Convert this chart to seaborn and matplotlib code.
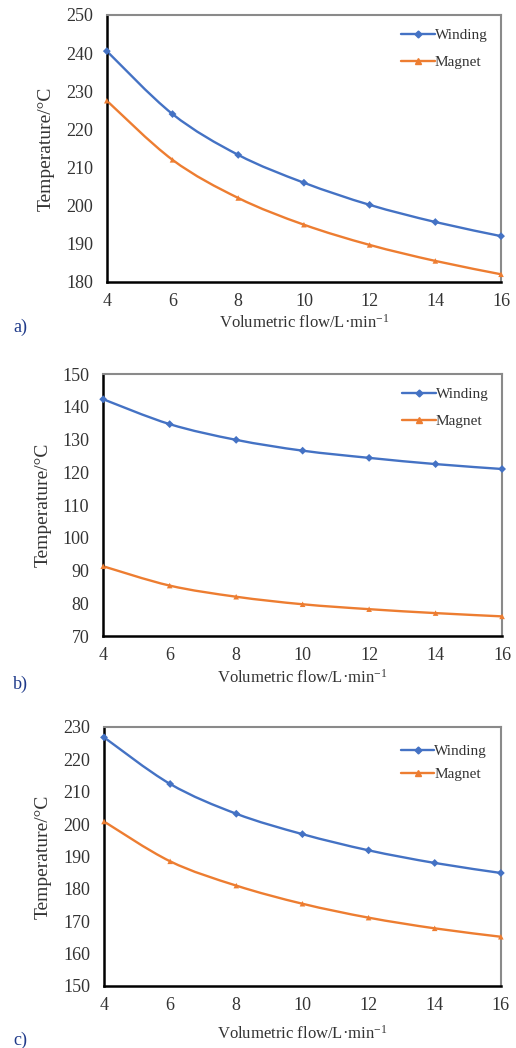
import numpy as np
import pandas as pd
import seaborn as sns
import matplotlib
matplotlib.use('Agg')
from matplotlib import pyplot as plt
from matplotlib.path import Path
from matplotlib.patches import PathPatch
from matplotlib.lines import Line2D

flow = [4, 6, 8, 10, 12, 14, 16]

winding_a = [240.5, 224.0, 213.3, 206.0, 200.2, 195.7, 192.0]
magnet_a = [227.5, 212.0, 202.0, 195.0, 189.7, 185.5, 182.0]

winding_b = [142.3, 134.7, 129.9, 126.6, 124.4, 122.5, 121.0]
magnet_b = [91.3, 85.4, 82.0, 79.7, 78.2, 77.0, 76.0]

winding_c = [226.8, 212.4, 203.2, 196.9, 191.9, 188.0, 184.9]
magnet_c = [200.8, 188.5, 181.0, 175.4, 171.1, 167.8, 165.2]

ylims = [(180, 250), (70, 150), (150, 230)]
panel_tags = ['a)', 'b)', 'c)']

BLUE = '#4472C4'
ORANGE = '#ED7D31'
TEXT = '#333333'

sns.set_theme(style='white')
plt.rcParams['font.family'] = ['Liberation Serif', 'DejaVu Serif']
plt.rcParams['mathtext.default'] = 'regular'


def smooth_path(x, y):
    # Excel style smoothed line: cubic bezier through the points
    p = np.column_stack([x, y]).astype(float)
    ext = np.vstack([p[0], p, p[-1]])
    verts = [p[0]]
    codes = [Path.MOVETO]
    for i in range(len(p) - 1):
        c1 = ext[i + 1] + (ext[i + 2] - ext[i]) / 6
        c2 = ext[i + 2] - (ext[i + 3] - ext[i + 1]) / 6
        verts += [c1, c2, p[i + 1]]
        codes += [Path.CURVE4] * 3
    return Path(verts, codes)


fig = plt.figure(figsize=(5.16, 10.48), dpi=100)
boxes = [(0.207, 0.731, 0.764, 0.2548),
         (0.200, 0.3931, 0.773, 0.250),
         (0.2016, 0.0592, 0.769, 0.2471)]
series = [(winding_a, magnet_a), (winding_b, magnet_b), (winding_c, magnet_c)]
tag_y = [0.683, 0.343, 0.003]
label_pads = [3, 3, 8]
legend_anchor = [(1.0, 1.0), (1.0, 1.0), (1.0, 0.985)]
legend_spacing = [0.85, 0.85, 0.6]

for k in range(3):
    ax = fig.add_axes(boxes[k])
    wind, mag = series[k]
    df = pd.DataFrame({'flow': flow * 2, 'temp': wind + mag,
                       'part': ['Winding'] * 7 + ['Magnet'] * 7})

    for vals, col in [(wind, BLUE), (mag, ORANGE)]:
        ax.add_patch(PathPatch(smooth_path(flow, vals), facecolor='none',
                               edgecolor=col, lw=1.7, zorder=2))
    sns.scatterplot(data=df, x='flow', y='temp', hue='part', style='part',
                    palette={'Winding': BLUE, 'Magnet': ORANGE},
                    markers={'Winding': 'D', 'Magnet': '^'}, s=16,
                    edgecolor='none', legend=False, ax=ax, zorder=3, clip_on=False)

    ax.set_xlim(4, 16)
    ax.set_ylim(*ylims[k])
    ax.set_xticks(flow)
    ax.set_yticks(np.arange(ylims[k][0], ylims[k][1] + 1, 10))
    ax.tick_params(direction='in', length=3, width=1, colors='black',
                   labelcolor=TEXT, labelsize=13)
    ax.tick_params(axis='x', pad=8)
    ax.tick_params(axis='y', pad=10)

    for s in ['left', 'bottom']:
        ax.spines[s].set_color('black')
        ax.spines[s].set_linewidth(1.8)
    for s in ['top', 'right']:
        ax.spines[s].set_color('#8a8a8a')
        ax.spines[s].set_linewidth(1.5)

    ax.set_xlabel('Volumetric flow/L·min$^{-1}$', fontsize=12,
                  color=TEXT, labelpad=label_pads[k])
    ax.set_ylabel('Temperature/°C', fontsize=14, color=TEXT, labelpad=8)

    handles = [Line2D([], [], color=BLUE, marker='D', markersize=3.5, lw=1.7),
               Line2D([], [], color=ORANGE, marker='^', markersize=4.5, lw=1.7)]
    ax.legend(handles, ['Winding', 'Magnet'], loc='upper right',
              bbox_to_anchor=legend_anchor[k], frameon=False, fontsize=11,
              handlelength=2.2, handletextpad=0.0,
              labelspacing=legend_spacing[k], labelcolor=TEXT)

    fig.text(0.025, tag_y[k], panel_tags[k], fontsize=13, color='#1F3A8A')

fig.savefig('out.png', dpi=100)
